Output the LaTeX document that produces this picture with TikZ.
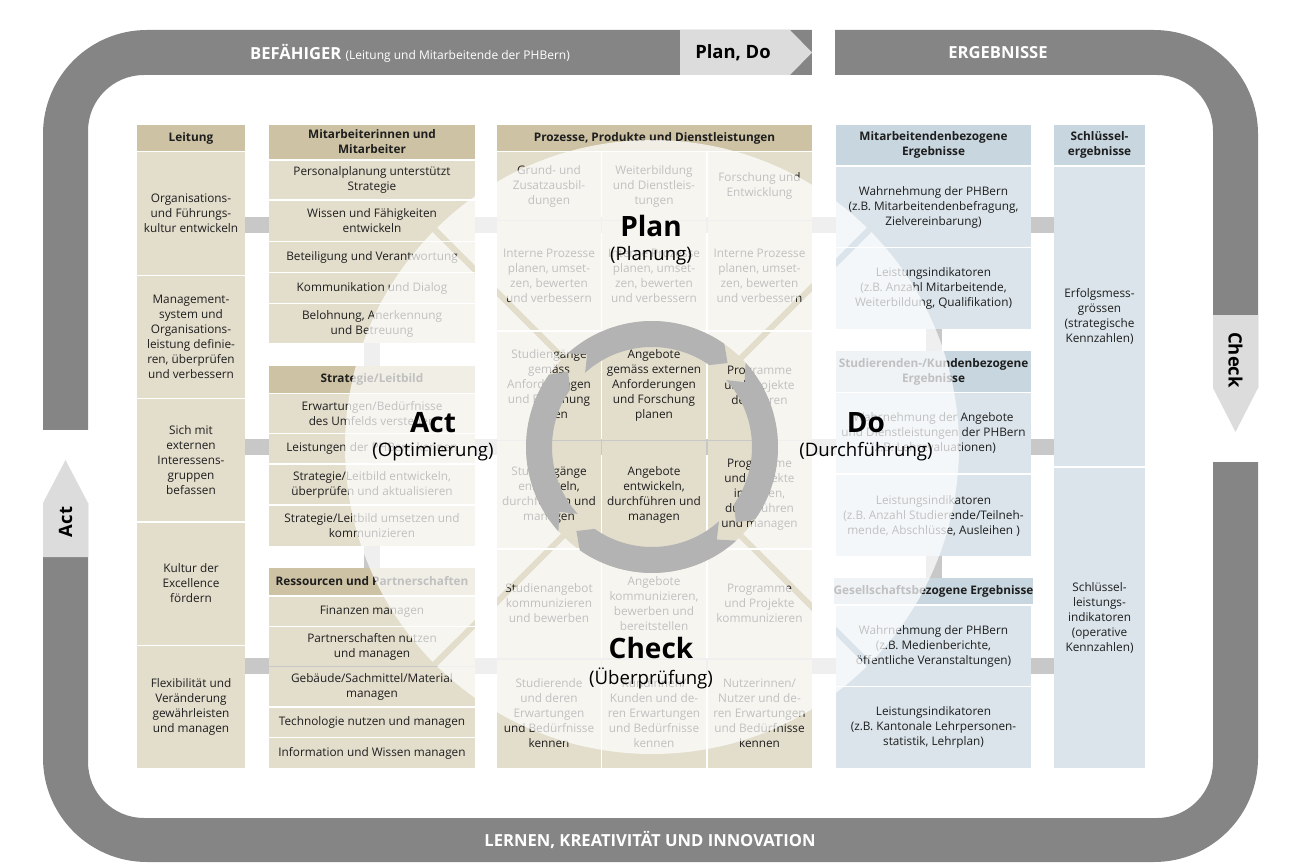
\documentclass[tikz,border=0pt]{standalone}
\usepackage{fontspec}
\setmainfont{Open Sans}
\usepackage{tikz}
\usetikzlibrary{calc, positioning, backgrounds}
\definecolor{bandgray}{HTML}{858585}
\definecolor{arrowgray}{HTML}{DCDCDC}
\definecolor{bargray}{HTML}{C8C8C8}
\definecolor{ringgray}{HTML}{B3B3B3}
\definecolor{tanhead}{HTML}{CDC2A4}
\definecolor{tanbody}{HTML}{E3DDCC}
\definecolor{bluehead}{HTML}{C7D6DF}
\definecolor{bluebody}{HTML}{DAE4EA}
\definecolor{inktext}{HTML}{1E1E1E}
\newcommand{\cellfont}{\fontsize{5.9}{7.5}\selectfont}
\newcommand{\bandfont}{\fontsize{8.3}{10}\selectfont\bfseries}
\newcommand{\smallbandfont}{\fontsize{6}{7}\selectfont\mdseries}
\tikzstyle{cell}=[inner sep=0pt, align=center, text=inktext, font=\cellfont]
\tikzstyle{tanhd}=[cell, fill=tanhead, font=\cellfont\bfseries]
\tikzstyle{tanbd}=[cell, fill=tanbody]
\tikzstyle{bluehd}=[cell, fill=bluehead, font=\cellfont\bfseries]
\tikzstyle{bluebd}=[cell, fill=bluebody]
\tikzstyle{lcol}=[minimum width=54pt]
\tikzstyle{mcol}=[minimum width=103pt]
\tikzstyle{pcol}=[minimum width=52pt]
\tikzstyle{ecol}=[minimum width=97.5pt]
\tikzstyle{scol}=[minimum width=45.5pt]
\tikzstyle{bar}=[bargray, line width=8pt]
\tikzstyle{bandtxt}=[inner sep=0pt, text=white, font=\bandfont]
\tikzstyle{pdca}=[inner sep=0pt, font=\fontsize{14}{16}\selectfont\bfseries]
\tikzstyle{pdcasub}=[inner sep=0pt, font=\fontsize{9.3}{11}\selectfont]

\begin{document}
\begin{tikzpicture}[x=0.5pt, y=-0.5pt]
\useasboundingbox (0,0) rectangle (1300,866);
% the frame
\fill[bandgray, even odd rule] [rounded corners=52pt] (43,30) rectangle (1258,862) [rounded corners=28pt] (88,75) rectangle (1213,818);
\fill[white] (812,26) rectangle (835,79);
\fill[white] (1205,388) rectangle (1262,462);
\fill[white] (39,430) rectangle (92,503);
\fill[arrowgray] (680,30) -- (790,30) -- (812,52.5) -- (790,75) -- (680,75) -- cycle;
\fill[arrowgray] (1213,315) -- (1258,315) -- (1258,388) -- (1235.5,432) -- (1213,388) -- cycle;
\fill[arrowgray] (43,557) -- (88,557) -- (88,503) -- (65.5,460) -- (43,503) -- cycle;
\node[bandtxt] (befaehiger) at (410,53) {BEFÄHIGER {\smallbandfont (Leitung und Mitarbeitende der PHBern)}};
\node[bandtxt, text=black, font=\fontsize{9.2}{11}\selectfont\bfseries] (plando) at (733,53) {Plan, Do};
\node[bandtxt] (ergebnisse) at (998,53) {ERGEBNISSE};
\node[bandtxt] (lernen) at (650,840) {LERNEN, KREATIVITÄT UND INNOVATION};
\node[bandtxt, text=black, font=\fontsize{9.2}{11}\selectfont\bfseries, rotate=-90] (checkarr) at (1235.5,360) {Check};
\node[bandtxt, text=black, font=\fontsize{9.2}{11}\selectfont\bfseries, rotate=90] (actarr) at (65.5,522) {Act};
% Leitung
\node[tanhd, lcol, minimum height=13pt] (lei0) at (191,138) {Leitung};
\node[tanbd, lcol, minimum height=61pt] (lei1) at (191,213.5) {Organisations-\\und Führungs-\\kultur entwickeln};
\node[tanbd, lcol, minimum height=61pt] (lei2) at (191,337) {Management-\\system und\\Organisations-\\leistung definie-\\ren, überprüfen\\und verbessern};
\node[tanbd, lcol, minimum height=61pt] (lei3) at (191,460) {Sich mit\\externen\\Interessens-\\gruppen\\befassen};
\node[tanbd, lcol, minimum height=61pt] (lei4) at (191,583.5) {Kultur der\\Excellence\\fördern};
\node[tanbd, lcol, minimum height=61pt] (lei5) at (191,707) {Flexibilität und\\Veränderung\\gewährleisten\\und managen};
% Mitarbeitende, Strategie, Ressourcen
\node[tanhd, mcol, minimum height=17pt] (mit0) at (372,142) {Mitarbeiterinnen und\\Mitarbeiter};
\node[tanbd, mcol, minimum height=19pt] (mit1) at (372,180) {Personalplanung unterstützt\\Strategie};
\node[tanbd, mcol, minimum height=20pt] (mit2) at (372,221) {Wissen und Fähigkeiten\\entwickeln};
\node[tanbd, mcol, minimum height=15pt] (mit3) at (372,257) {Beteiligung und Verantwortung};
\node[tanbd, mcol, minimum height=15pt] (mit4) at (372,288) {Kommunikation und Dialog};
\node[tanbd, mcol, minimum height=19.5pt] (mit5) at (372,323.5) {Belohnung, Anerkennung\\und Betreuung};
\node[tanhd, mcol, minimum height=13.5pt] (str0) at (372,379.5) {Strategie/Leitbild};
\node[tanbd, mcol, minimum height=19.5pt] (str1) at (372,413.5) {Erwartungen/Bedürfnisse\\des Umfelds verstehen};
\node[tanbd, mcol, minimum height=14.5pt] (str2) at (372,448.5) {Leistungen der PHBern kennen};
\node[tanbd, mcol, minimum height=19.5pt] (str3) at (372,484.5) {Strategie/Leitbild entwickeln,\\überprüfen und aktualisieren};
\node[tanbd, mcol, minimum height=20pt] (str4) at (372,526) {Strategie/Leitbild umsetzen und\\kommunizieren};
\node[tanhd, mcol, minimum height=13.5pt] (res0) at (372,581.5) {Ressourcen und Partnerschaften};
\node[tanbd, mcol, minimum height=14.5pt] (res1) at (372,611.5) {Finanzen managen};
\node[tanbd, mcol, minimum height=19.5pt] (res2) at (372,646.5) {Partnerschaften nutzen\\und managen};
\node[tanbd, mcol, minimum height=19.5pt] (res3) at (372,686.5) {Gebäude/Sachmittel/Material\\managen};
\node[tanbd, mcol, minimum height=14.5pt] (res4) at (372,722.5) {Technologie nutzen und managen};
\node[tanbd, mcol, minimum height=15pt] (res5) at (372,753) {Information und Wissen managen};
% Prozesse
\node[tanhd, minimum width=157.5pt, minimum height=13pt] (pro0) at (654.5,138) {Prozesse, Produkte und Dienstleistungen};
\node[tanbd, pcol, minimum height=34pt] (pro11) at (549,186) {Grund- und\\Zusatzausbil-\\dungen};
\node[tanbd, pcol, minimum height=34pt] (pro12) at (654,186) {Weiterbildung\\und Dienstleis-\\tungen};
\node[tanbd, pcol, minimum height=34pt] (pro13) at (759.5,186) {Forschung und\\Entwicklung};
\node[tanbd, pcol, minimum height=54pt] (pro21) at (549,275.5) {Interne Prozesse\\planen, umset-\\zen, bewerten\\und verbessern};
\node[tanbd, pcol, minimum height=54pt] (pro22) at (654,275.5) {Interne Prozesse\\planen, umset-\\zen, bewerten\\und verbessern};
\node[tanbd, pcol, minimum height=54pt] (pro23) at (759.5,275.5) {Interne Prozesse\\planen, umset-\\zen, bewerten\\und verbessern};
\node[tanbd, pcol, minimum height=54pt] (pro31) at (549,385.5) {Studiengänge\\gemäss\\Anforderungen\\und Forschung\\planen};
\node[tanbd, pcol, minimum height=54pt] (pro32) at (654,385.5) {Angebote\\gemäss externen\\Anforderungen\\und Forschung\\planen};
\node[tanbd, pcol, minimum height=54pt] (pro33) at (759.5,385.5) {Programme\\und Projekte\\definieren};
\node[tanbd, pcol, minimum height=53.5pt] (pro41) at (549,494.5) {Studiengänge\\entwickeln,\\durchführen und\\managen};
\node[tanbd, pcol, minimum height=53.5pt] (pro42) at (654,494.5) {Angebote\\entwickeln,\\durchführen und\\managen};
\node[tanbd, pcol, minimum height=53.5pt] (pro43) at (759.5,494.5) {Programme\\und Projekte\\initiieren,\\durchführen\\und managen};
\node[tanbd, pcol, minimum height=54pt] (pro51) at (549,603.5) {Studienangebot\\kommunizieren\\und bewerben};
\node[tanbd, pcol, minimum height=54pt] (pro52) at (654,603.5) {Angebote\\kommunizieren,\\bewerben und\\bereitstellen};
\node[tanbd, pcol, minimum height=54pt] (pro53) at (759.5,603.5) {Programme\\und Projekte\\kommunizieren};
\node[tanbd, pcol, minimum height=54pt] (pro61) at (549,713.5) {Studierende\\und deren\\Erwartungen\\und Bedürfnisse\\kennen};
\node[tanbd, pcol, minimum height=54pt] (pro62) at (654,713.5) {Kundinnen/\\Kunden und de-\\ren Erwartungen\\und Bedürfnisse\\kennen};
\node[tanbd, pcol, minimum height=54pt] (pro63) at (759.5,713.5) {Nutzerinnen/\\Nutzer und de-\\ren Erwartungen\\und Bedürfnisse\\kennen};
% Ergebnisse
\node[bluehd, ecol, minimum height=20pt] (mb0) at (933.5,145) {Mitarbeitendenbezogene\\Ergebnisse};
\node[bluebd, ecol, minimum height=40pt] (mb1) at (933.5,207) {Wahrnehmung der PHBern\\(z.B. Mitarbeitendenbefragung,\\Zielvereinbarung)};
\node[bluebd, ecol, minimum height=40.5pt] (mb2) at (933.5,288.5) {Leistungsindikatoren\\(z.B. Anzahl Mitarbeitende,\\Weiterbildung, Qualifikation)};
\node[bluehd, ecol, minimum height=20.5pt] (kb0) at (933.5,371.5) {Studierenden-/Kundenbezogene\\Ergebnisse};
\node[bluebd, ecol, minimum height=40pt] (kb1) at (933.5,433) {Wahrnehmung der Angebote\\und Dienstleistungen der PHBern\\(z.B. Lehrevaluationen)};
\node[bluebd, ecol, minimum height=40.5pt] (kb2) at (933.5,515.5) {Leistungsindikatoren\\(z.B. Anzahl Studierende/Teilneh-\\mende, Abschlüsse, Ausleihen )};
\node[bluehd, ecol, minimum height=13pt] (gb0) at (933.5,591) {Gesellschaftsbezogene Ergebnisse};
\node[bluebd, ecol, minimum height=40pt] (gb1) at (933.5,646) {Wahrnehmung der PHBern\\(z.B. Medienberichte,\\öffentliche Veranstaltungen)};
\node[bluebd, ecol, minimum height=40.5pt] (gb2) at (933.5,727.5) {Leistungsindikatoren\\(z.B. Kantonale Lehrpersonen-\\statistik, Lehrplan)};
\node[bluehd, scol, minimum height=20pt] (sk0) at (1099.5,145) {Schlüssel-\\ergebnisse};
\node[bluebd, scol, minimum height=149.5pt] (sk1) at (1099.5,316.5) {Erfolgsmess-\\grössen\\(strategische\\Kennzahlen)};
\node[bluebd, scol, minimum height=150pt] (sk2) at (1099.5,618) {Schlüssel-\\leistungs-\\indikatoren\\(operative\\Kennzahlen)};
% the links behind the boxes
\coordinate (rowA) at (0,225);
\coordinate (rowB) at (0,447);
\coordinate (rowC) at (0,666);
\begin{scope}[on background layer]
\draw[bar] (lei1.east |- rowA) -- (sk1.west |- rowA);
\draw[bar] (lei3.east |- rowB) -- (sk1.west |- rowB);
\draw[bar] (lei5.east |- rowC) -- (sk2.west |- rowC);
\draw[bar] (mit5.south) -- (str0.north);
\draw[bar] (str4.south) -- (res0.north);
\draw[bar] (mb2.south) -- (kb0.north);
\draw[bar] (kb2.south) -- (gb0.north);
\end{scope}
% the PDCA wheel
\begin{scope}[shift={(652,447)}]
\foreach \a in {45,135,225,315} {
\fill[white, opacity=0.72] ({\a+1.4}:126) -- ({\a+0.6}:307) arc[start angle=\a+0.6, end angle=\a+89.4, radius=307] -- ({\a+88.6}:126) arc[start angle=\a+88.6, end angle=\a+1.4, radius=126] -- cycle;
\fill[ringgray] ({\a+3}:126) arc[start angle=\a+3, end angle=\a+80, radius=126] -- ({\a+87}:113) -- ({\a+80}:100) arc[start angle=\a+80, end angle=\a+3, radius=100] -- ({\a+10}:113) -- cycle;
}
\end{scope}
\node[pdca] (plan) at (651,226) {Plan};
\node[pdcasub] (planung) at (651,256) {(Planung)};
\node[pdca] (do) at (866,423) {Do};
\node[pdcasub] (durchf) at (866,452) {(Durchführung)};
\node[pdca] (check) at (651,648) {Check};
\node[pdcasub] (ueberpr) at (651,678) {(Überprüfung)};
\node[pdca] (act) at (433,423) {Act};
\node[pdcasub] (optim) at (433,452) {(Optimierung)};
\end{tikzpicture}
\end{document}
